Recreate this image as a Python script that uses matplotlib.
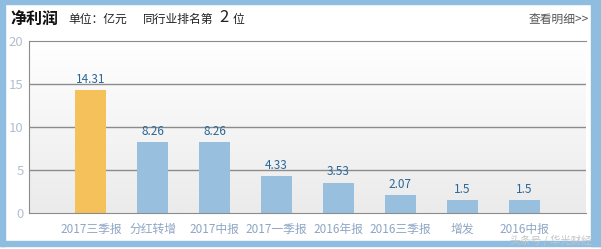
import matplotlib.pyplot as plt
import numpy as np
from matplotlib.patches import Rectangle
from matplotlib.colors import LinearSegmentedColormap

plt.rcParams['font.family'] = ['Noto Sans CJK SC', 'DejaVu Sans']

# data
categories = ['2017三季报', '分红转增', '2017中报', '2017一季报', '2016年报', '2016三季报', '增发', '2016中报']
values = [14.31, 8.26, 8.26, 4.33, 3.53, 2.07, 1.5, 1.5]
value_labels = ['14.31', '8.26', '8.26', '4.33', '3.53', '2.07', '1.5', '1.5']
colors = ['#f5c15a'] + ['#98c0de'] * 7

W, H = 601, 249
fig = plt.figure(figsize=(W / 100, H / 100), dpi=100)
fig.patch.set_facecolor('white')

# blue frame around the card
frame = fig.add_axes([0, 0, 1, 1], zorder=-5)
frame.set_xlim(0, W)
frame.set_ylim(H, 0)
frame.axis('off')
blue = '#8fbde0'
frame.add_patch(Rectangle((0, 0), W, 4, color=blue))
frame.add_patch(Rectangle((0, 0), 5, 246, color=blue))
frame.add_patch(Rectangle((591, 0), 10, 246, color=blue))
frame.add_patch(Rectangle((0, 241), W, 5, color=blue))

# plot area in pixels
x0, x1, y0, y1 = 29, 586, 41, 213
ax = fig.add_axes([x0 / W, 1 - y1 / H, (x1 - x0) / W, (y1 - y0) / H])

x = np.arange(len(categories))
ax.set_xlim(-1, 8)
ax.set_ylim(0, 20)

# gradient background
grad = np.linspace(1, 0, 100).reshape(-1, 1)
cmap = LinearSegmentedColormap.from_list('g', ['#ebebeb', '#ffffff'])
ax.imshow(grad, extent=(-1, 8, 0, 20), aspect='auto', cmap=cmap,
          vmin=0, vmax=1, zorder=0, origin='upper')

for yv in [5, 10, 15]:
    ax.axhline(yv, color='#8c8c8c', lw=1, zorder=1)

ax.bar(x, values, width=0.5, color=colors, zorder=2)
for xi, v, lab in zip(x, values, value_labels):
    ax.annotate(lab, (xi, v), xytext=(0, 3), textcoords='offset points', ha='center', va='bottom',
                fontsize=8.5, color='#2a6696', zorder=3)

for s in ['left', 'bottom', 'top']:
    ax.spines[s].set_color('#8c8c8c')
ax.spines['right'].set_visible(False)
ax.set_yticks([0, 5, 10, 15, 20])
ax.set_xticks(x)
ax.set_xticklabels(categories, fontsize=8.5, color='#8ea6c4')
ax.tick_params(axis='y', labelsize=9.5, colors='#b3bfd0', length=0, pad=4)
ax.tick_params(axis='x', length=0, pad=7)

# header texts
fig.text(10 / W, 1 - 19 / H, '净利润', fontsize=11.5, fontweight='bold', color='#111111', va='center')
fig.text(68 / W, 1 - 19 / H, '单位：亿元', fontsize=8.5, color='#222222', va='center')
fig.text(143 / W, 1 - 19 / H, '同行业排名第', fontsize=8.5, color='#222222', va='center')
fig.text(219 / W, 1 - 18 / H, '2', fontsize=12, color='#222222', va='center')
fig.text(233 / W, 1 - 19 / H, '位', fontsize=8.5, color='#222222', va='center')
fig.text(589 / W, 1 - 19 / H, '查看明细>>', fontsize=8.5, color='#555555', va='center', ha='right')

# watermark
fig.text(592 / W, 1 - 240 / H, '头条号 / 华光财经', fontsize=7.5, color='#c4c4c4', va='center', ha='right')

fig.savefig('out.png', dpi=100)
